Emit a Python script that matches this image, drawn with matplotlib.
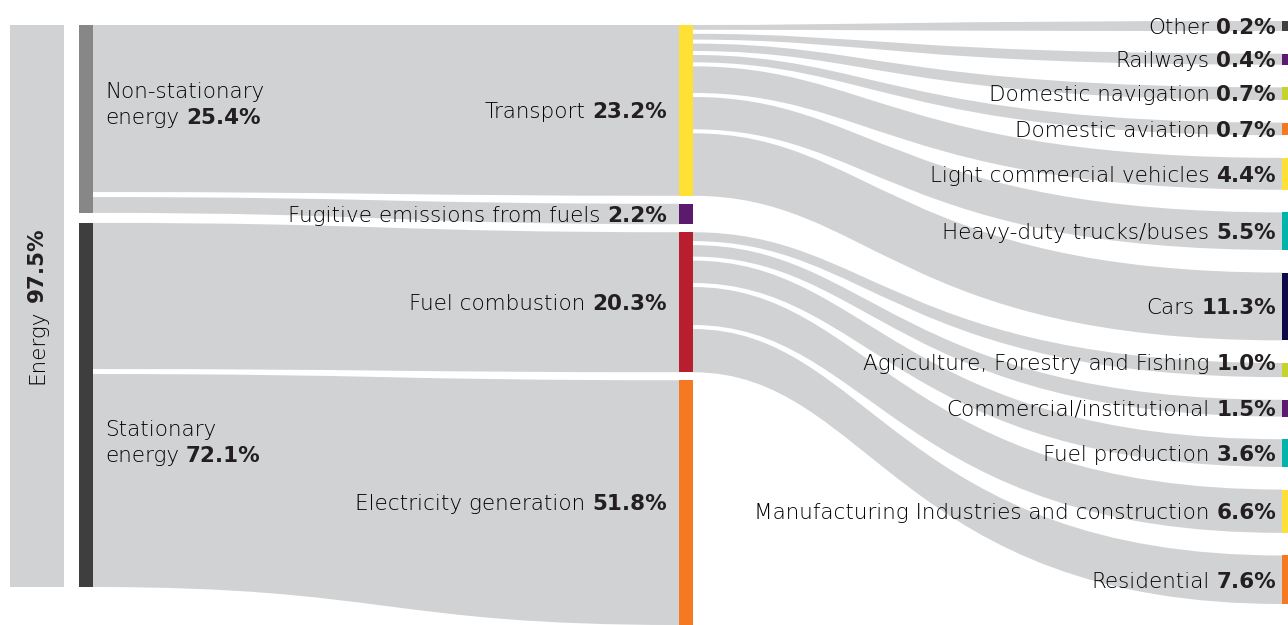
import matplotlib
matplotlib.use("Agg")
import matplotlib.pyplot as plt
from matplotlib.path import Path
from matplotlib.patches import PathPatch, Rectangle

# ---------------- data: share of total emissions (%) ----------------
energy_label = "Energy"
energy_value = 97.5

sector_names = ["Non-stationary\nenergy", "Stationary\nenergy"]
sector_values = [25.4, 72.1]

mid_names = ["Transport", "Fugitive emissions from fuels",
             "Fuel combustion", "Electricity generation"]
mid_values = [23.2, 2.2, 20.3, 51.8]
mid_sector = [0, 0, 1, 1]

transport_names = ["Other", "Railways", "Domestic navigation", "Domestic aviation",
                   "Light commercial vehicles", "Heavy-duty trucks/buses", "Cars"]
transport_values = [0.2, 0.4, 0.7, 0.7, 4.4, 5.5, 11.3]

combustion_names = ["Agriculture, Forestry and Fishing", "Commercial/institutional",
                    "Fuel production", "Manufacturing Industries and construction",
                    "Residential"]
combustion_values = [1.0, 1.5, 3.6, 6.6, 7.6]

# ---------------- styling ----------------
FLOW = "#d1d2d4"
NAME_C = "#000000"
VALUE_C = "#231f20"
sector_colors = ["#878787", "#3e3e3e"]
mid_colors = ["#ffe135", "#5b1a6e", "#b81e2d", "#f47920"]
transport_colors = ["#3f3f3f", "#5b1a6e", "#c5d32a", "#f47920",
                    "#ffe135", "#00b3ab", "#0d0846"]
combustion_colors = ["#c5d32a", "#5b1a6e", "#00b3ab", "#ffe135", "#f47920"]

FONT = "DejaVu Sans"
NAME_W = 200       # extra-light names
VALUE_W = "bold"   # bold figures
FS = 15.5

W, H = 1288, 625
fig = plt.figure(figsize=(W / 100, H / 100), dpi=100)
ax = fig.add_axes([0, 0, 1, 1])
ax.set_xlim(0, W)
ax.set_ylim(H, 0)
ax.axis("off")

# column x-extents
X0 = (10, 64)
X1 = (79, 93)
X2 = (679, 693)
X3 = (1282, 1296)


def size(v):
    """Display thickness of a terminal node for a value in %."""
    return 9 + 5.2 * v


def band(x0, a0, b0, x1, a1, b1, c1=0.5, c2=0.5):
    dx = x1 - x0
    p, q = x0 + c1 * dx, x1 - c2 * dx
    verts = [(x0, a0), (p, a0), (q, a1), (x1, a1),
             (x1, b1), (q, b1), (p, b0), (x0, b0), (x0, a0)]
    codes = [Path.MOVETO, Path.CURVE4, Path.CURVE4, Path.CURVE4,
             Path.LINETO, Path.CURVE4, Path.CURVE4, Path.CURVE4, Path.CLOSEPOLY]
    ax.add_patch(PathPatch(Path(verts, codes), facecolor=FLOW,
                           edgecolor="none", zorder=1))


def bar(xs, top, bottom, color, z=2):
    ax.add_patch(Rectangle((xs[0], top), xs[1] - xs[0], bottom - top,
                           facecolor=color, edgecolor="none", zorder=z))


fig.canvas.draw()
renderer = fig.canvas.get_renderer()


def text_width(t):
    return t.get_window_extent(renderer).width


def name_text(x, y, s, **kw):
    return ax.text(x, y, s, fontsize=FS, fontweight=NAME_W, family=FONT,
                   color=NAME_C, zorder=5, **kw)


def value_text(x, y, v, **kw):
    return ax.text(x, y, f"{v:.1f}%", fontsize=FS, fontweight=VALUE_W,
                   family=FONT, color=VALUE_C, zorder=5, **kw)


def label_right(x, y, name, value, space=7):
    v = value_text(x, y, value, ha="right", va="baseline")
    name_text(x - text_width(v) - space, y, name, ha="right", va="baseline")


# ---------------- right column (leaves) ----------------
children = [(transport_names, transport_values, transport_colors),
            (combustion_names, combustion_values, combustion_colors)]
leaf_sizes = [size(v) for v in transport_values + combustion_values]
R_TOP, R_BOTTOM = 21, 604
r_gap = (R_BOTTOM - R_TOP - sum(leaf_sizes)) / (len(leaf_sizes) - 1)
leaf_pos = []
y = R_TOP
for s in leaf_sizes:
    leaf_pos.append((y, y + s))
    y += s + r_gap

# ---------------- middle column ----------------
BRANCH_FIT = 0.93
child_of_mid = {0: 0, 2: 1}
mid_sizes = []
for i, v in enumerate(mid_values):
    if i in child_of_mid:
        kids = children[child_of_mid[i]][1]
        mid_sizes.append(BRANCH_FIT * sum(size(k) for k in kids))
    else:
        mid_sizes.append(size(v))

M_TOP, M_GAP = 25, 8
mid_pos = []
y = M_TOP
for h in mid_sizes:
    # nodes are trimmed at the lower edge of the drawing area
    mid_pos.append((y, min(y + h, H)))
    y += h + M_GAP

# ---------------- sector column ----------------
K1, INNER_GAP, S_GAP, COL1_BOTTOM = 7.2, 5, 10, 587
src_width = [K1 * v for v in mid_values]
# the dominant (last) flow is compressed so the sector column ends at COL1_BOTTOM
fixed = (sum(src_width[:-1]) + INNER_GAP * (len(mid_values) - len(sector_values))
         + S_GAP * (len(sector_values) - 1))
src_width[-1] = min(src_width[-1], COL1_BOTTOM - M_TOP - fixed)

sector_pos, src_pos = [], {}
y = M_TOP
for s in range(len(sector_values)):
    top = y
    idx = [i for i in range(len(mid_values)) if mid_sector[i] == s]
    for j, i in enumerate(idx):
        src_pos[i] = (y, y + src_width[i])
        y += src_width[i] + (INNER_GAP if j < len(idx) - 1 else 0)
    sector_pos.append((top, y))
    y += S_GAP

# ---------------- flows ----------------
for i in range(len(mid_values)):
    a0, b0 = src_pos[i]
    a1, b1 = mid_pos[i]
    band(X1[1], a0, b0, X2[0], a1, b1)

EXIT_GAP = 4
leaf_i = 0
for i, (names, vals, cols) in zip([0, 2], children):
    top, bottom = mid_pos[i]
    sizes = [size(v) for v in vals]
    shrink = (sum(sizes) - (bottom - top) + EXIT_GAP * (len(vals) - 1)) / len(vals)
    y = top
    for k, s in enumerate(sizes):
        w = s - shrink
        a1, b1 = leaf_pos[leaf_i + k]
        band(X2[1], y, y + w, X3[0], a1, b1, c1=0.3, c2=0.65)
        y += w + EXIT_GAP
    leaf_i += len(vals)

# ---------------- nodes ----------------
bar(X0, sector_pos[0][0], sector_pos[-1][1], FLOW, z=1)
for (t, b), c in zip(sector_pos, sector_colors):
    bar(X1, t, b, c)
for (t, b), c in zip(mid_pos, mid_colors):
    bar(X2, t, b, c)
all_leaf_colors = transport_colors + combustion_colors
for (t, b), c in zip(leaf_pos, all_leaf_colors):
    bar(X3, t, b, c)

# ---------------- labels ----------------
CAP_HALF = 7.8
label_nudge = {"Agriculture, Forestry and Fishing": -8}
all_leaf_names = transport_names + combustion_names
all_leaf_values = transport_values + combustion_values
for name, v, (t, b) in zip(all_leaf_names, all_leaf_values, leaf_pos):
    yc = (t + b) / 2 + CAP_HALF + label_nudge.get(name, 0)
    label_right(X3[0] - 6, yc, name, v)

for name, v, (t, b) in zip(mid_names, mid_values, mid_pos):
    label_right(X2[0] - 12, (t + b) / 2 + CAP_HALF, name, v)

sector_label_shift = [-16, 36]
LINE = 26
for name, v, (t, b), sh in zip(sector_names, sector_values, sector_pos,
                               sector_label_shift):
    first, second = name.split("\n")
    y1 = (t + b) / 2 + sh - LINE / 2 + CAP_HALF
    x = X1[1] + 12
    name_text(x, y1, first, ha="left", va="baseline")
    t2 = name_text(x, y1 + LINE, second, ha="left", va="baseline")
    value_text(x + text_width(t2) + 7, y1 + LINE, v, ha="left", va="baseline")

# rotated total label, centred on the energy block
cx = (X0[0] + X0[1]) / 2
cy = (sector_pos[0][0] + sector_pos[-1][1]) / 2
tn = name_text(cx, 0, energy_label, rotation=90, ha="center", va="bottom")
tv = value_text(cx, 0, energy_value, rotation=90, ha="center", va="top")
ln = tn.get_window_extent(renderer).height
lv = tv.get_window_extent(renderer).height
total = ln + 7 + lv
tn.set_y(cy + total / 2)
tv.set_y(cy - total / 2)

fig.savefig("out.png", dpi=100, facecolor="white")
